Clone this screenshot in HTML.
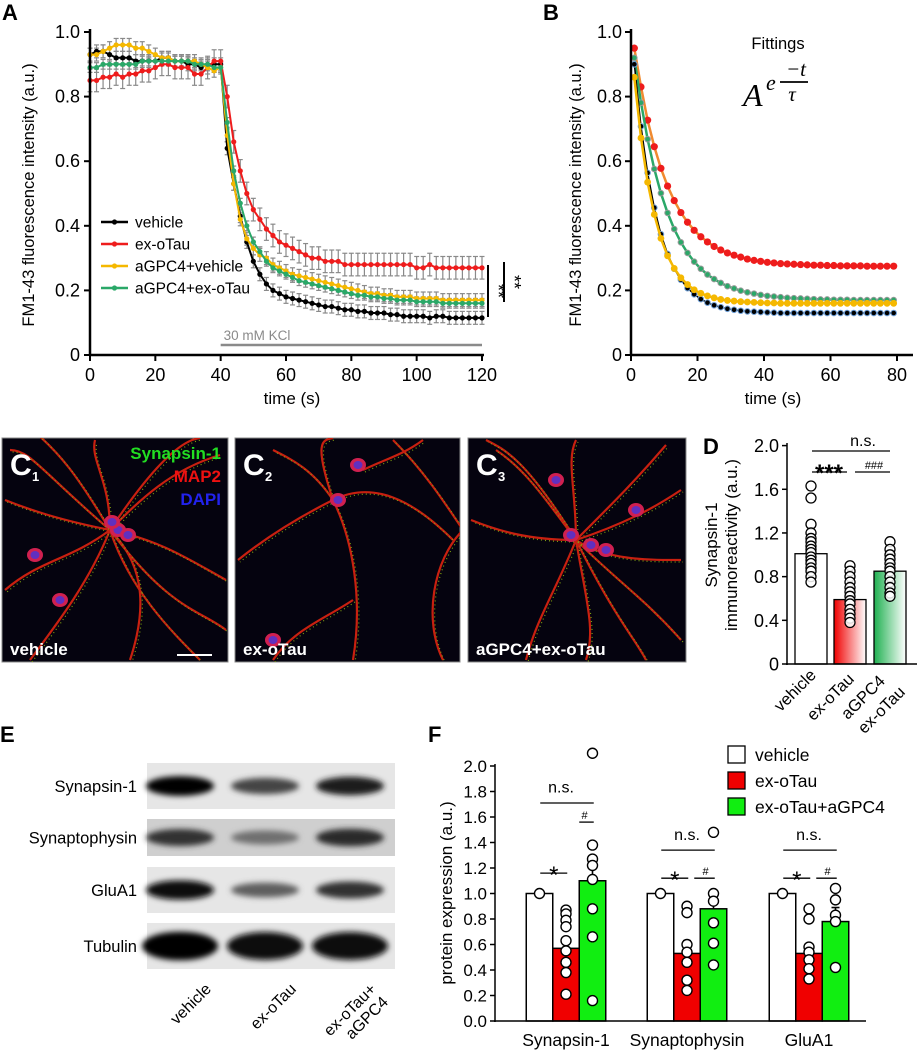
<!DOCTYPE html>
<html><head><meta charset="utf-8"><style>
html,body{margin:0;padding:0;background:#fff;}
svg{display:block;font-family:"Liberation Sans",Arial,sans-serif;}
</style></head><body>
<svg id="fig" width="918" height="1050" viewBox="0 0 918 1050" xmlns="http://www.w3.org/2000/svg">
<defs>
<filter id="blur3" x="-20%" y="-50%" width="140%" height="200%"><feGaussianBlur stdDeviation="3"/></filter>
<linearGradient id="gRed" x1="0" y1="0" x2="1" y2="0"><stop offset="0" stop-color="#f00000"/><stop offset="1" stop-color="#fff"/></linearGradient>
<linearGradient id="gGreen" x1="0" y1="0" x2="1" y2="0"><stop offset="0" stop-color="#1fb050"/><stop offset="1" stop-color="#fff"/></linearGradient>
</defs>
</svg>
<script>
// ---------- Panel A data ----------
const timeA = [0,2,4,6,8,10,12,14,16,18,20,22,24,26,28,30,32,34,36,38,40,42,44,46,48,50,52,54,56,58,60,62,64,66,68,70,72,74,76,78,80,82,84,86,88,90,92,94,96,98,100,102,104,106,108,110,112,114,116,118,120];
const vehicleA = [0.93,0.94,0.94,0.93,0.92,0.92,0.92,0.91,0.91,0.91,0.91,0.92,0.92,0.91,0.91,0.90,0.90,0.89,0.90,0.90,0.90,
 0.64,0.53,0.43,0.35,0.29,0.25,0.22,0.20,0.19,0.18,0.175,0.17,0.165,0.16,0.155,0.15,0.15,0.145,0.14,0.14,0.135,0.135,0.13,0.13,0.13,0.125,0.125,0.12,0.12,0.12,0.12,0.115,0.12,0.12,0.115,0.115,0.115,0.115,0.115,0.115];
const exoTauA = [0.85,0.85,0.86,0.86,0.87,0.86,0.87,0.87,0.88,0.88,0.89,0.90,0.90,0.89,0.89,0.89,0.87,0.87,0.89,0.91,0.91,
 0.80,0.66,0.57,0.50,0.45,0.42,0.39,0.37,0.35,0.34,0.33,0.32,0.31,0.30,0.30,0.29,0.29,0.29,0.28,0.28,0.28,0.28,0.28,0.28,0.28,0.28,0.28,0.28,0.28,0.27,0.27,0.28,0.27,0.27,0.27,0.27,0.27,0.27,0.27,0.27];
const gpcVehA = [0.93,0.93,0.94,0.95,0.96,0.96,0.96,0.95,0.95,0.94,0.93,0.92,0.92,0.91,0.91,0.91,0.91,0.90,0.89,0.88,0.89,
 0.68,0.53,0.42,0.36,0.33,0.31,0.30,0.28,0.27,0.26,0.25,0.245,0.24,0.235,0.23,0.225,0.22,0.215,0.21,0.205,0.20,0.195,0.19,0.19,0.185,0.185,0.18,0.18,0.18,0.175,0.175,0.175,0.175,0.17,0.17,0.17,0.17,0.17,0.17,0.17];
const gpcTauA = [0.89,0.89,0.90,0.90,0.90,0.90,0.90,0.90,0.91,0.91,0.91,0.91,0.91,0.91,0.91,0.91,0.90,0.90,0.90,0.89,0.89,
 0.72,0.57,0.47,0.40,0.35,0.32,0.29,0.27,0.26,0.25,0.24,0.23,0.225,0.22,0.215,0.21,0.205,0.20,0.195,0.19,0.185,0.185,0.18,0.18,0.175,0.175,0.17,0.17,0.17,0.165,0.165,0.165,0.165,0.16,0.16,0.16,0.16,0.16,0.16,0.16];
const errA = [0.02, 0.035, 0.02, 0.015];
const legendA = ["vehicle","ex-oTau","aGPC4+vehicle","aGPC4+ex-oTau"];
const ticksAX = [0,20,40,60,80,100,120];
const ticksY1 = [0,0.2,0.4,0.6,0.8,1.0];
const ticksY1Lab = ["0","0.2","0.4","0.6","0.8","1.0"];

// ---------- Panel B data ----------
const timeB = [1,3,5,7,9,11,13,15,17,19,21,23,25,27,29,31,33,35,37,39,41,43,45,47,49,51,53,55,57,59,61,63,65,67,69,71,73,75,77,79];
const fitRed = [0.95,0.83,0.727,0.645,0.578,0.523,0.478,0.441,0.411,0.386,0.366,0.350,0.336,0.325,0.316,0.309,0.303,0.297,0.293,0.290,0.287,0.285,0.283,0.282,0.281,0.280,0.279,0.278,0.278,0.277,0.277,0.276,0.276,0.276,0.276,0.275,0.275,0.275,0.275,0.275];
const fitGreen = [0.92,0.781,0.668,0.576,0.501,0.440,0.390,0.349,0.316,0.289,0.267,0.249,0.235,0.223,0.213,0.206,0.199,0.194,0.190,0.186,0.183,0.181,0.179,0.177,0.176,0.175,0.174,0.173,0.172,0.172,0.171,0.171,0.171,0.170,0.170,0.170,0.170,0.170,0.170,0.170];
const fitBlack = [0.90,0.708,0.564,0.456,0.374,0.313,0.267,0.233,0.207,0.188,0.173,0.162,0.154,0.148,0.143,0.140,0.137,0.135,0.134,0.133,0.132,0.131,0.130,0.130,0.130,0.130,0.130,0.130,0.130,0.130,0.130,0.130,0.130,0.130,0.130,0.130,0.130,0.130,0.130,0.130];
const fitYellow = [0.86,0.672,0.535,0.435,0.361,0.307,0.268,0.239,0.218,0.202,0.191,0.183,0.177,0.172,0.169,0.167,0.165,0.164,0.163,0.162,0.161,0.161,0.160,0.160,0.160,0.160,0.160,0.160,0.160,0.160,0.160,0.160,0.160,0.160,0.160,0.160,0.160,0.160,0.160,0.160];
const ticksBX = [0,20,40,60,80];

// ---------- Panel D data ----------
const groupsD = ["vehicle","ex-oTau","aGPC4","ex-oTau"];
const barsD = [1.01,0.59,0.85];
const ptsDveh = [1.63,1.52,1.28,1.20,1.15,1.12,1.08,1.05,1.02,0.98,0.95,0.92,0.88,0.85,0.80,0.75];
const ptsDtau = [0.90,0.85,0.80,0.75,0.70,0.66,0.62,0.58,0.55,0.50,0.46,0.42,0.38];
const ptsDgpc = [1.12,1.05,1.00,0.96,0.92,0.88,0.85,0.80,0.75,0.70,0.65,0.62];
const ticksD = [0,0.4,0.8,1.2,1.6,2.0];
const ticksDLab = ["0","0.4","0.8","1.2","1.6","2.0"];

// ---------- Panel F data ----------
const proteinsF = ["Synapsin-1","Synaptophysin","GluA1"];
const legendF = ["vehicle","ex-oTau","ex-oTau+aGPC4"];
const meanVeh = [1.0,1.0,1.0];
const meanTau = [0.57,0.53,0.53];
const meanGpc = [1.10,0.88,0.78];
const semTau = [0.07,0.10,0.06];
const semGpc = [0.18,0.11,0.11];
const ptsTau = [[0.87,0.84,0.79,0.74,0.63,0.55,0.46,0.38,0.21],[0.90,0.85,0.60,0.54,0.46,0.32,0.24],[0.88,0.80,0.58,0.54,0.48,0.41,0.33]];
const ptsGpc = [[2.10,1.38,1.27,1.22,1.11,0.88,0.66,0.16],[1.48,1.00,0.94,0.77,0.61,0.44],[1.04,0.95,0.83,0.78,0.42]];
const ticksF = [0,0.2,0.4,0.6,0.8,1.0,1.2,1.4,1.6,1.8,2.0];
const ticksFLab = ["0.0","0.2","0.4","0.6","0.8","1.0","1.2","1.4","1.6","1.8","2.0"];

// ---------- Panel E data ----------
const blotRows = ["Synapsin-1","Synaptophysin","GluA1","Tubulin"];
const bandIntensity = [[1.0,0.6,0.85],[0.7,0.35,0.75],[0.95,0.45,0.7],[1.0,0.95,0.95]];

const NS = 'http://www.w3.org/2000/svg';
const svg = document.getElementById('fig');
function mk(tag, attrs, parent){
  const e = document.createElementNS(NS, tag);
  for (const k in attrs) e.setAttribute(k, attrs[k]);
  (parent || svg).appendChild(e);
  return e;
}
function txt(s, x, y, size, anchor, parent, extra){
  const a = {x:x, y:y, 'font-size':size, 'text-anchor':anchor||'start', fill:'#000'};
  if (extra) for (const k in extra) a[k] = extra[k];
  const t = mk('text', a, parent);
  t.textContent = s;
  return t;
}
function grp(name){
  const g = mk('g', {});
  
  
  return g;
}

// ===== Panel A =====
const xA = t => 90 + t * 392 / 120;
const yA = v => 355 - v * 323;
const gA = grp('panel-a');
let L = txt('A', 2, 20, 22, 'start', gA, {'font-weight':'bold'});


const colorsA = ['#000000','#ee1c1c','#f5b800','#2aa868'];
const seriesA = [vehicleA, exoTauA, gpcVehA, gpcTauA];
seriesA.forEach((s, si) => {
  const eg = mk('g', {stroke:'#8a8a8a', 'stroke-width':1.2}, gA);
  
  
  s.forEach((v, i) => {
    const x = xA(timeA[i]), e = errA[si];
    mk('line', {x1:x, x2:x, y1:yA(v+e), y2:yA(v-e)}, eg);
    mk('line', {x1:x-2.5, x2:x+2.5, y1:yA(v+e), y2:yA(v+e)}, eg);
    mk('line', {x1:x-2.5, x2:x+2.5, y1:yA(v-e), y2:yA(v-e)}, eg);
  });
});
[0,1,2,3].forEach(si => {
  const s = seriesA[si];
  const sg = mk('g', {}, gA);
  
  
  const pts = s.map((v, i) => xA(timeA[i]).toFixed(1) + ',' + yA(v).toFixed(1)).join(' ');
  mk('polyline', {points:pts, fill:'none', stroke:colorsA[si], 'stroke-width':2}, sg);
  s.forEach((v, i) => {
    const c = mk('circle', {cx:xA(timeA[i]), cy:yA(v), r:2.6, fill:colorsA[si]}, sg);
    
    
  });
});
mk('line', {x1:90, y1:29, x2:90, y2:356, stroke:'#000', 'stroke-width':2.5}, gA);
mk('line', {x1:89, y1:355, x2:484, y2:355, stroke:'#000', 'stroke-width':2.5}, gA);
ticksAX.forEach(t => {
  mk('line', {x1:xA(t), x2:xA(t), y1:355, y2:361, stroke:'#000', 'stroke-width':2}, gA);
  const tl = txt(String(t), xA(t), 381, 18, 'middle', gA);
  
  
});
ticksY1.forEach((v, i) => {
  mk('line', {x1:84, x2:90, y1:yA(v), y2:yA(v), stroke:'#000', 'stroke-width':2}, gA);
  const tl = txt(ticksY1Lab[i], 80, yA(v) + 6, 18, 'end', gA);
  
  
});
L = txt('FM1-43 fluorescence intensity (a.u.)', 0, 0, 16.5, 'middle', gA, {transform:'translate(34,195) rotate(-90)'});


L = txt('time (s)', 292, 404, 17, 'middle', gA);


legendA.forEach((n, i) => {
  const lg = mk('g', {}, gA);
  
  
  const y = 222 + i * 22;
  mk('line', {x1:101, x2:128, y1:y, y2:y, stroke:colorsA[i], 'stroke-width':2.5}, lg);
  mk('circle', {cx:114.5, cy:y, r:2.6, fill:colorsA[i]}, lg);
  txt(n, 135, y + 5.5, 15.5, 'start', lg);
});
mk('line', {x1:xA(40), x2:xA(120), y1:345, y2:345, stroke:'#8a8a8a', 'stroke-width':2.5}, gA);
L = txt('30 mM KCl', xA(40) + 3, 340, 13.5, 'start', gA, {fill:'#8a8a8a'});


mk('line', {x1:488, x2:488, y1:265, y2:317, stroke:'#000', 'stroke-width':2}, gA);
mk('line', {x1:504, x2:504, y1:262, y2:302, stroke:'#000', 'stroke-width':2}, gA);
txt('**', 0, 0, 18, 'middle', gA, {transform:'translate(492,291) rotate(90)'});
txt('**', 0, 0, 18, 'middle', gA, {transform:'translate(508,282) rotate(90)'});

// ===== Panel B =====
const xB = t => 631 + t * 266 / 80;
const yB = v => 355 - v * 323;
const gB = grp('panel-b');
L = txt('B', 543, 20, 22, 'start', gB, {'font-weight':'bold'});


const fits = [fitRed, fitGreen, fitBlack, fitYellow];
const fitNames = ['ex-oTau-fit','aGPC4+ex-oTau-fit','vehicle-fit','aGPC4+vehicle-fit'];
const fitLine = ['#f08a30','#2aa868','#000','#f5b800'];
const fitFill = ['#ee1c1c','#2aa868','#000','#f5b800'];
const fitStroke = ['none','#999','#6fa0d8','none'];
const fitR = [3.6,2.8,2.8,3.4];
fits.forEach((s, si) => {
  const sg = mk('g', {}, gB);
  
  
  const pts = s.map((v, i) => xB(timeB[i]).toFixed(1) + ',' + yB(v).toFixed(1)).join(' ');
  mk('polyline', {points:pts, fill:'none', stroke:fitLine[si], 'stroke-width':si === 2 ? 1.5 : 2.5}, sg);
  s.forEach((v, i) => {
    const c = mk('circle', {cx:xB(timeB[i]), cy:yB(v), r:fitR[si], fill:fitFill[si], stroke:fitStroke[si], 'stroke-width':1}, sg);
    
    
  });
});
mk('line', {x1:631, y1:29, x2:631, y2:356, stroke:'#000', 'stroke-width':2.5}, gB);
mk('line', {x1:630, y1:355, x2:913, y2:355, stroke:'#000', 'stroke-width':2.5}, gB);
ticksBX.forEach(t => {
  mk('line', {x1:xB(t), x2:xB(t), y1:355, y2:361, stroke:'#000', 'stroke-width':2}, gB);
  const tl = txt(String(t), xB(t), 381, 18, 'middle', gB);
  
  
});
ticksY1.forEach((v, i) => {
  mk('line', {x1:625, x2:631, y1:yB(v), y2:yB(v), stroke:'#000', 'stroke-width':2}, gB);
  const tl = txt(ticksY1Lab[i], 622, yB(v) + 6, 18, 'end', gB);
  
  
});
L = txt('FM1-43 fluorescence intensity (a.u.)', 0, 0, 16.5, 'middle', gB, {transform:'translate(581,195) rotate(-90)'});


L = txt('time (s)', 773, 404, 17, 'middle', gB);


L = txt('Fittings', 778, 49, 16.5, 'middle', gB);


const fg = mk('g', {'font-family':'"Liberation Serif",serif', 'font-style':'italic'}, gB);


txt('A', 743, 106, 32, 'start', fg);
txt('e', 766, 90, 22, 'start', fg);
txt('−t', 796, 76, 21, 'middle', fg);
mk('line', {x1:780, x2:808, y1:82, y2:82, stroke:'#000', 'stroke-width':1.8}, fg);
txt('τ', 792, 101, 21, 'middle', fg);

// ===== Panel C micrographs =====
const cPanels = [[2,228,'1','vehicle'],[235,460,'2','ex-oTau'],[468,686,'3','aGPC4+ex-oTau']];
const neurites = [
 ['M110 530 C 80 480, 60 450, 20 420','M110 530 C 140 500, 170 470, 220 455','M110 530 C 90 580, 60 620, 30 660','M110 530 C 130 590, 170 630, 200 660','M110 530 C 60 520, 30 510, 5 500','M110 530 C 160 540, 190 560, 226 580','M110 530 C 110 480, 90 460, 95 440','M110 530 C 140 560, 150 600, 130 660','M110 530 C 70 560, 40 560, 5 590','M110 530 C 150 470, 180 440, 200 438','M110 530 C 40 470, 30 450, 10 450','M110 530 C 170 610, 200 610, 226 630'],
 ['M100 500 C 80 470, 60 460, 40 450','M100 500 C 120 540, 130 600, 120 660','M100 500 C 140 480, 180 500, 220 540','M230 530 C 200 560, 190 620, 210 660','M230 530 C 210 500, 190 470, 160 440','M100 500 C 60 520, 30 540, 5 560','M130 470 C 150 460, 170 455, 190 440','M100 500 C 80 440, 90 440, 100 438','M120 600 C 90 620, 60 630, 40 660'],
 ['M110 540 C 80 500, 60 470, 30 450','M110 540 C 150 500, 170 480, 200 445','M110 540 C 150 580, 180 600, 215 640','M110 540 C 90 590, 70 620, 60 660','M110 540 C 60 540, 30 530, 5 520','M110 540 C 140 560, 180 560, 215 560','M110 540 C 110 490, 100 460, 110 440','M110 540 C 120 600, 130 630, 120 660','M110 540 C 60 460, 40 450, 20 440','M110 540 C 170 520, 200 500, 215 490','M110 540 C 150 620, 170 640, 180 660']
];
const somas = [[[118,530],[128,535],[112,522],[60,600],[35,555]],[[105,500],[125,465],[245,528],[255,540],[40,640]],[[105,535],[125,545],[140,550],[90,480],[170,510]]];
cPanels.forEach((p, pi) => {
  const [x0, x1, sub, lab] = p;
  const g = grp('micrograph-' + lab);
  mk('rect', {x:x0, y:438, width:x1 - x0, height:224, fill:'#05030f', stroke:'#888', 'stroke-width':1}, g);
  const cp = mk('clipPath', {id:'clip' + pi}, g);
  mk('rect', {x:x0, y:438, width:x1 - x0, height:224}, cp);
  const wrap = mk('g', {'clip-path':'url(#clip' + pi + ')'}, g);
  const inner = mk('g', {transform:'translate(' + (x0 - 2) + ',0)'}, wrap);
  neurites[pi].forEach(d => {
    mk('path', {d:d, fill:'none', stroke:'#c82010', 'stroke-width':2.2}, inner);
    mk('path', {d:d, fill:'none', stroke:'#80a010', 'stroke-width':1.2, 'stroke-dasharray':'1 3', transform:'translate(2,2)'}, inner);
  });
  somas[pi].forEach(s => {
    mk('ellipse', {cx:s[0], cy:s[1], rx:8, ry:7, fill:'#d02050'}, inner);
    mk('ellipse', {cx:s[0], cy:s[1], rx:4.5, ry:4, fill:'#6030c0'}, inner);
  });
  txt('C', x0 + 8, 475, 30, 'start', g, {fill:'#fff', 'font-weight':'bold'});
  txt(sub, x0 + 30, 481, 13, 'start', g, {fill:'#fff', 'font-weight':'bold'});
  const cl = txt(lab, x0 + 8, 655, 17, 'start', g, {fill:'#fff', 'font-weight':'bold'});
  
  
});
txt('Synapsin-1', 221, 459, 17, 'end', svg, {fill:'#22dd22', 'font-weight':'bold'});
txt('MAP2', 221, 482, 17, 'end', svg, {fill:'#ee1111', 'font-weight':'bold'});
txt('DAPI', 221, 505, 17, 'end', svg, {fill:'#2222ee', 'font-weight':'bold'});
mk('line', {x1:177, x2:212, y1:655, y2:655, stroke:'#fff', 'stroke-width':2});

// ===== Panel D =====
const yD = v => 664 - v * 109.2;
const xDc = [811, 850, 890];
const gD = grp('panel-d');
L = txt('D', 703, 454, 22, 'start', gD, {'font-weight':'bold'});


const fillsD = ['#fff', 'url(#gRed)', 'url(#gGreen)'];
const ptsD = [ptsDveh, ptsDtau, ptsDgpc];
barsD.forEach((v, i) => {
  const b = mk('rect', {x:xDc[i] - 16, y:yD(v), width:32, height:664 - yD(v), fill:fillsD[i], stroke:'#000', 'stroke-width':1.3}, gD);
  
  
  ptsD[i].forEach(pv => {
    const c = mk('circle', {cx:xDc[i], cy:yD(pv), r:5, fill:'#fff', stroke:'#000', 'stroke-width':1.3, 'fill-opacity':0.85}, gD);
    
    
  });
});
mk('line', {x1:787, y1:443, x2:787, y2:665, stroke:'#000', 'stroke-width':1.5}, gD);
mk('line', {x1:786, y1:664, x2:917, y2:664, stroke:'#000', 'stroke-width':1.5}, gD);
ticksD.forEach((v, i) => {
  mk('line', {x1:782, x2:787, y1:yD(v), y2:yD(v), stroke:'#000', 'stroke-width':1.5}, gD);
  const tl = txt(ticksDLab[i], 779, yD(v) + 6.5, 18, 'end', gD);
  
  
});
L = txt('Synapsin-1', 0, 0, 17, 'middle', gD, {transform:'translate(717,545) rotate(-90)'});


txt('immunoreactivity (a.u.)', 0, 0, 17, 'middle', gD, {transform:'translate(737,545) rotate(-90)'});
[['vehicle',817,676],['ex-oTau',855,680],['aGPC4',886,682],['ex-oTau',906,693]].forEach(a => {
  const tl = txt(a[0], 0, 0, 16.5, 'end', gD, {transform:'translate(' + a[1] + ',' + a[2] + ') rotate(-45)'});
  
  
});
txt('n.s.', 863, 446, 16, 'middle', gD);
mk('line', {x1:812, x2:890, y1:451, y2:451, stroke:'#000', 'stroke-width':1.3}, gD);
txt('***', 829, 481, 24, 'middle', gD, {'font-weight':'bold'});
mk('line', {x1:812, x2:847, y1:472, y2:472, stroke:'#000', 'stroke-width':1.3}, gD);
txt('###', 874, 469, 11, 'middle', gD);
mk('line', {x1:855, x2:890, y1:472, y2:472, stroke:'#000', 'stroke-width':1.3}, gD);

// ===== Panel E =====
const gE = grp('panel-e');
L = txt('E', 0, 742, 22, 'start', gE, {'font-weight':'bold'});


const rowY = [763, 819, 867, 923];
const rowH = [46, 37, 46, 46];
const laneX = [180, 265, 350];
blotRows.forEach((r, ri) => {
  const rg = mk('g', {}, gE);
  
  
  mk('rect', {x:147, y:rowY[ri], width:248, height:rowH[ri], fill:ri === 1 ? '#cfcfcf' : '#e6e6e6'}, rg);
  bandIntensity[ri].forEach((v, li) => {
    const g = Math.round(170 - 170 * v);
    mk('ellipse', {cx:laneX[li], cy:rowY[ri] + rowH[ri] / 2, rx:ri === 3 ? 38 : 34, ry:(ri === 3 ? 13 : 9) * (0.6 + 0.5 * v), fill:'rgb(' + g + ',' + g + ',' + g + ')', filter:'url(#blur3)'}, rg);
  });
  const tl = txt(r, 137, rowY[ri] + rowH[ri] / 2 + 6, 16.5, 'end', rg);
  
  
});
[['vehicle',212,990],['ex-oTau',297,990]].forEach(a => {
  const tl = txt(a[0], 0, 0, 16, 'end', gE, {transform:'translate(' + a[1] + ',' + a[2] + ') rotate(-45)'});
  
  
});
L = txt('ex-oTau+', 0, 0, 16, 'end', gE, {transform:'translate(377,990) rotate(-45)'});


txt('aGPC4', 0, 0, 16, 'end', gE, {transform:'translate(389,1003) rotate(-45)'});

// ===== Panel F =====
const yF = v => 1021 - v * 127.5;
const groupX = [566, 687, 809];
const bw = 26.5;
const gF = grp('panel-f');
L = txt('F', 428, 742, 22, 'start', gF, {'font-weight':'bold'});


const colF = ['#fff', '#f00000', '#11ee11'];
proteinsF.forEach((p, gi) => {
  const cx = groupX[gi];
  const means = [meanVeh[gi], meanTau[gi], meanGpc[gi]];
  const sems = [0, semTau[gi], semGpc[gi]];
  const pts = [[1.0], ptsTau[gi], ptsGpc[gi]];
  means.forEach((m, k) => {
    const left = cx - 1.5 * bw + k * bw;
    const mid = left + bw / 2;
    if (sems[k] > 0) {
      mk('line', {x1:mid, x2:mid, y1:yF(m + sems[k]), y2:yF(m), stroke:'#000', 'stroke-width':1.6}, gF);
      mk('line', {x1:mid - 4, x2:mid + 4, y1:yF(m + sems[k]), y2:yF(m + sems[k]), stroke:'#000', 'stroke-width':1.6}, gF);
    }
    const b = mk('rect', {x:left, y:yF(m), width:bw, height:1021 - yF(m), fill:colF[k], stroke:'#000', 'stroke-width':1.5}, gF);
    
    
    pts[k].forEach(pv => {
      const c = mk('circle', {cx:mid, cy:yF(pv), r:5, fill:'#fff', stroke:'#000', 'stroke-width':1.4}, gF);
      
      
    });
  });
  const tl = txt(p, cx, 1046, 17.5, 'middle', gF);
  
  
  const l0 = cx - 1.5 * bw;
  txt('n.s.', cx - (gi === 0 ? 5 : 0), yF(gi === 0 ? 1.76 : 1.39) - 4, 16, 'middle', gF);
  const nsy = yF(gi === 0 ? 1.71 : 1.34);
  mk('line', {x1:l0 + 14, x2:l0 + 3 * bw - 12, y1:nsy, y2:nsy, stroke:'#000', 'stroke-width':1.3}, gF);
  const sy = yF(gi === 0 ? 1.16 : 1.12);
  mk('line', {x1:l0 + 14, x2:l0 + 2 * bw - 12, y1:sy, y2:sy, stroke:'#000', 'stroke-width':1.3}, gF);
  txt('*', l0 + bw + 1, sy + 10, 24, 'middle', gF);
  const hy = yF(gi === 0 ? 1.56 : 1.12);
  mk('line', {x1:l0 + 2 * bw - 6 + (gi === 0 ? 6 : 0), x2:l0 + 3 * bw - 12, y1:hy, y2:hy, stroke:'#000', 'stroke-width':1.3}, gF);
  txt('#', l0 + 2.5 * bw - 8, hy - 3, 11, 'middle', gF);
});
mk('line', {x1:495, y1:764, x2:495, y2:1022, stroke:'#000', 'stroke-width':1.5}, gF);
mk('line', {x1:494, y1:1021, x2:866, y2:1021, stroke:'#000', 'stroke-width':1.5}, gF);
ticksF.forEach((v, i) => {
  mk('line', {x1:490, x2:495, y1:yF(v), y2:yF(v), stroke:'#000', 'stroke-width':1.5}, gF);
  const tl = txt(ticksFLab[i], 487, yF(v) + 6, 17, 'end', gF);
  
  
});
L = txt('protein expression (a.u.)', 0, 0, 17, 'middle', gF, {transform:'translate(452,893) rotate(-90)'});


legendF.forEach((n, i) => {
  const lg = mk('g', {}, gF);
  
  
  const y = 746 + i * 26;
  mk('rect', {x:728, y:y, width:17, height:17, fill:colF[i], stroke:'#000', 'stroke-width':1.3}, lg);
  txt(n, 755, y + 15, 17.5, 'start', lg);
});
</script>
</body></html>
